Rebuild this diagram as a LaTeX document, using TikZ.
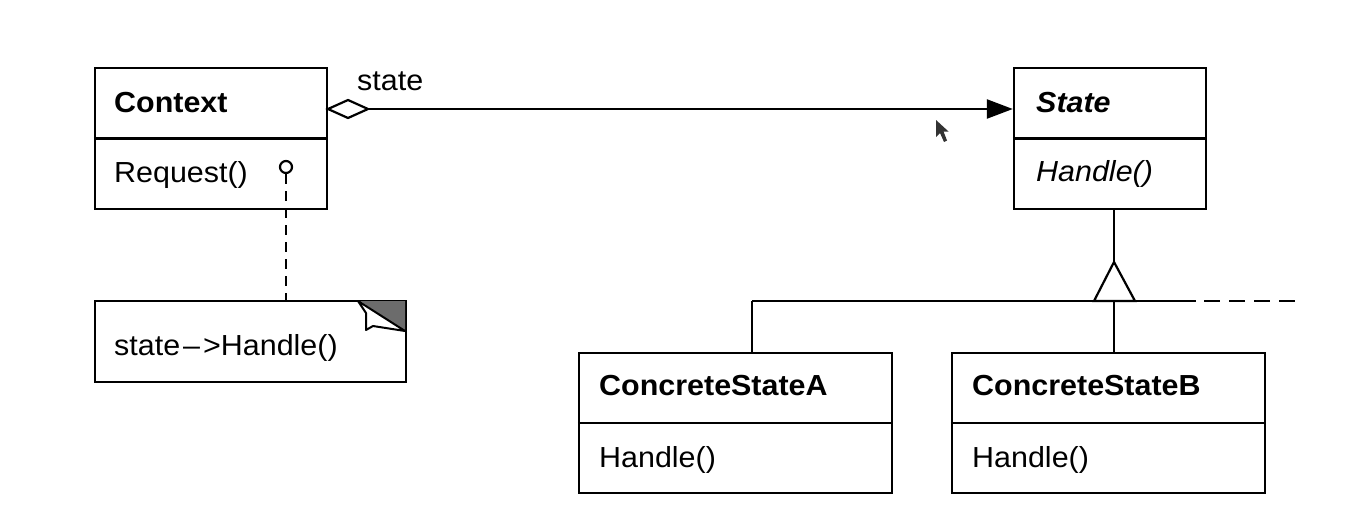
\documentclass[tikz,border=0pt]{standalone}
\usepackage{fontspec}
\setmainfont[FakeStretch=1.05]{Liberation Sans}
\usetikzlibrary{arrows.meta}
\begin{document}
\begin{tikzpicture}[x=0.5pt,y=-0.5pt,
  line width=1.2pt,
  classbox/.style={draw,line width=1.2pt,inner sep=0pt,rectangle},
  label/.style={anchor=base west,inner sep=0pt,font=\fontsize{14.5}{16}\selectfont},
  title/.style={label,font=\fontsize{14.5}{16}\selectfont\bfseries}
]
\useasboundingbox (0,0) rectangle (1363,520);

% classes
\node[classbox,minimum width=116pt,minimum height=70.5pt] (ctx) at (211,138.5) {};
\node[classbox,minimum width=96pt,minimum height=70.5pt] (st) at (1110,138.5) {};
\node[classbox,minimum width=156.5pt,minimum height=70pt] (csa) at (735.5,423) {};
\node[classbox,minimum width=156.5pt,minimum height=70pt] (csb) at (1108.5,423) {};
\draw (ctx.west) -- (ctx.east);
\draw (st.west) -- (st.east);
\draw (csa.west) -- (csa.east);
\draw (csb.west) -- (csb.east);

\node[title] (ctxname) at (113,112) {Context};
\node[label] (ctxop) at (113,182) {Request()};
\node[title,font=\fontsize{14.5}{16}\selectfont\bfseries\itshape] (stname) at (1035,112) {State};
\node[label,font=\fontsize{14.5}{16}\selectfont\itshape] (stop) at (1035,181) {Handle()};
\node[title] (csaname) at (598,395) {ConcreteStateA};
\node[label] (csaop) at (598,467) {Handle()};
\node[title] (csbname) at (971,395) {ConcreteStateB};
\node[label] (csbop) at (971,467) {Handle()};

% note with folded corner
\node[classbox,minimum width=155.5pt,minimum height=40.5pt] (note) at (250.5,341.5) {};
\fill[gray!85!black] (360,301) -- (405,301) -- (405,331) -- cycle;
\draw[line width=1pt,fill=white,line join=round] (358,301) -- (366,313) -- (366,330) -- (373,326) -- (405,331) -- cycle;
\node[label] (notetext) at (113,355) {state\kern1.5pt--\kern1.5pt>Handle()};

% note anchor on Request()
\node[draw,circle,line width=1.1pt,minimum size=6pt,inner sep=0pt] (dot) at (286,167) {};
\coordinate (notetop) at (286,301);
\draw[dash pattern=on 5pt off 3.5pt] (dot.south) -- (notetop);

% aggregation Context -> State
\draw[fill=white,line width=1.1pt] (328,109) -- (348,100) -- (368,109) -- (348,118) -- cycle;
\coordinate (dr) at (368,109);
\draw[-{Triangle[length=13pt,width=9.5pt]}] (dr) -- (st.west |- dr);
\node[label] (rolename) at (356,90) {state};

% inheritance
\coordinate (tri) at (1114,262);
\coordinate (bar) at (1114,301);
\draw (st.south -| tri) -- (tri);
\draw[fill=white,line width=1.1pt,line join=miter] (tri) -- (1135,301) -- (1094,301) -- cycle;
\coordinate (barL) at (752,301);
\coordinate (barR) at (1196,301);
\coordinate (dashL) at (1204,301);
\coordinate (dashR) at (1302,301);
\draw (barL) -- (barR);
\draw[dash pattern=on 8pt off 4.5pt] (dashL) -- (dashR);
\draw (barL) -- (barL |- csa.north);
\draw (bar) -- (bar |- csb.north);

% pointer
\fill[black!80] (936,120) -- (936,137) -- (940,133) -- (944,142) -- (947,140.5) -- (943.5,131.5) -- (948.5,131.5) -- cycle;
\end{tikzpicture}
\end{document}
